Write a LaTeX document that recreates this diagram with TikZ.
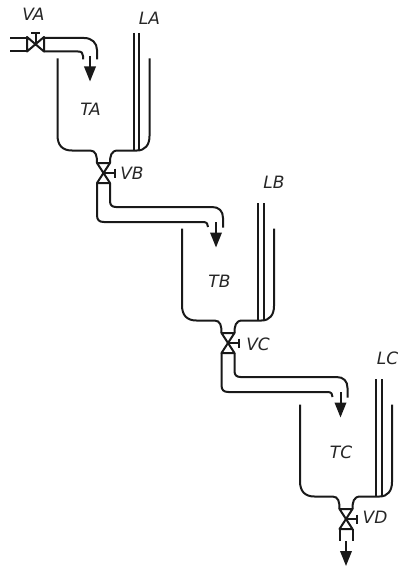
\documentclass[tikz,border=0pt]{standalone}
\usepackage{fontspec}
\setmainfont{DejaVu Sans}
\usetikzlibrary{arrows.meta}
\tikzset{
 pipe/.style={line width=2pt,line cap=butt,line join=round,black!90},
 flowarrow/.style={line width=2pt,black!90,-{Triangle[length=15pt,width=11.5pt]}},
 lbl/.style={font=\fontsize{17}{17}\selectfont\itshape,inner sep=0pt,text=black!85}
}
\newcommand{\ValveV}{%
 % vertical valve, origin at centre
 \draw[pipe] (-6.5,-10)--(6.5,-10)--(-6.5,10)--(6.5,10)--cycle;
 \draw[pipe] (0,0)--(11,0);
 \draw[pipe] (11,-4.5)--(11,4.5);
}
\newcommand{\TankUnit}{%
 % tank walls with outlet neck
 \draw[pipe] (57.5,58.5)--(57.5,135) .. controls (57.5,145) and (62,150.5) .. (72,150.5)
   --(90,150.5) .. controls (96,150.5) and (97,156) .. (97,163);
 \draw[pipe] (110,163) .. controls (110,156) and (111,150.5) .. (118,150.5)
   --(137,150.5) .. controls (145,150.5) and (149.5,145) .. (149.5,136)--(149.5,58.5);
 % level gauge
 \draw[pipe] (133.5,33)--(133.5,150);
 \draw[pipe] (139,33)--(139,150);
 \begin{scope}[shift={(103.5,173)}]\ValveV\end{scope}
}
\newcommand{\OutPipe}{%
 \draw[pipe] (97,183)--(97,215) .. controls (97,220) and (99,222) .. (104,222)
   --(203,222) .. controls (207,222) and (208,224) .. (208,227);
 \draw[pipe] (110,183)--(110,201) .. controls (110,205) and (112,207) .. (116,207)
   --(212,207) .. controls (219,207) and (223,211) .. (223,218)--(223,227.5);
 \draw[flowarrow] (216,222)--(216,247.5);
}
\begin{document}
\begin{tikzpicture}[x=1pt,y=-1pt]
\useasboundingbox (0,0) rectangle (399,567);
% inlet with valve VA
\draw[pipe] (10,38)--(27,38);
\draw[pipe] (10,51.5)--(27,51.5);
\draw[pipe] (27,37)--(44,51.5)--(44,37)--(27,51.5)--cycle;
\draw[pipe] (35.5,44)--(35.5,33);
\draw[pipe] (31,33)--(40,33);
\draw[pipe] (44,38)--(84,38) .. controls (92,38) and (97,43) .. (97,50)--(97,59.5);
\draw[pipe] (44,51.5)--(78,51.5) .. controls (81.5,51.5) and (83,53) .. (83,56)--(83,59.5);
\draw[flowarrow] (90,56)--(90,81.5);
% tank A
\TankUnit
\OutPipe
% tank B
\begin{scope}[shift={(124.5,170)}]\TankUnit\OutPipe\end{scope}
% tank C
\begin{scope}[shift={(242.5,346)}]\TankUnit
 \draw[pipe] (97,183)--(97,195);
 \draw[pipe] (110,183)--(110,195);
\end{scope}
\coordinate (tailD) at (346,541);
\coordinate (tipD) at (346,566);
\draw[flowarrow] (tailD)--(tipD);
% labels
\node[lbl] (VA) at (33.5,14.5) {VA};
\node[lbl] (LA) at (149.5,18.5) {LA};
\node[lbl] (TA) at (90.5,109) {TA};
\node[lbl] (VB) at (132,173.5) {VB};
\node[lbl] (LB) at (274,182) {LB};
\node[lbl] (TB) at (219.5,281) {TB};
\node[lbl] (VC) at (258,344.5) {VC};
\node[lbl] (LC) at (387.5,358) {LC};
\node[lbl] (TC) at (341,452) {TC};
\node[lbl] (VD) at (375,517) {VD};
\end{tikzpicture}
\end{document}
